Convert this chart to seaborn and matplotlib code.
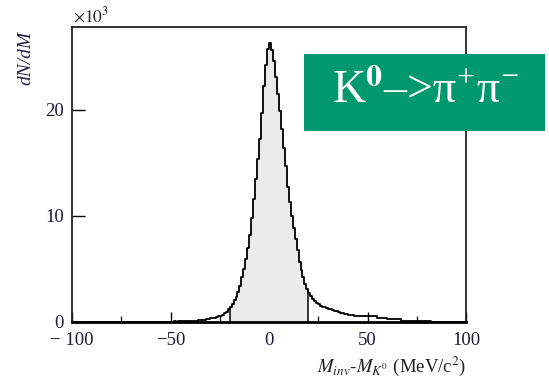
import numpy as np
import matplotlib
matplotlib.use("Agg")
import matplotlib.pyplot as plt
import seaborn as sns
from matplotlib.patches import Rectangle

# ---- data (counts in units of 10^3 per bin) ----
tail_left_edges = [-100, -48, -47, -46, -36]
tail_left_counts = [0.0, 0.08, 0.0, 0.08, 0.22]
core_start, core_stop = -32, 45          # 1 MeV wide bins
core_counts = [
    0.29, 0.31, 0.34, 0.37, 0.41, 0.46, 0.52, 0.60, 0.70, 0.82,   # -32 .. -23
    0.98, 1.18, 1.42, 1.72, 2.05, 2.40, 2.85, 3.40, 4.20, 5.00,   # -22 .. -13
    5.90, 7.00, 8.20, 9.80, 11.6, 13.5, 15.4, 17.2, 19.7, 22.2,   # -12 .. -3
    24.2, 25.7, 26.3, 25.6, 24.6, 23.1, 21.5, 19.9, 18.2, 16.4,   # -2 .. 7
    14.7, 12.7, 11.3, 10.0, 8.90, 7.80, 6.80, 5.70, 4.90, 4.20,   # 8 .. 17
    3.60, 3.10, 2.75, 2.45, 2.20, 2.00, 1.80, 1.66, 1.55, 1.46,   # 18 .. 27
    1.38, 1.31, 1.25, 1.19, 1.12, 1.05, 0.99, 0.93, 0.87, 0.82,   # 28 .. 37
    0.77, 0.72, 0.68, 0.65, 0.62, 0.59, 0.56,                     # 38 .. 44
]
tail_right_edges = [45, 55, 60, 67, 77, 82, 100]
tail_right_counts = [0.52, 0.42, 0.30, 0.14, 0.05, 0.01]
cut_low, cut_high = -20, 20

x_ticks = [-100, -50, 0, 50, 100]
x_ticklabels = ["\u2212 100", "\u221250", "0", "50", "100"]
x_minor = [-75, -25, 25, 75]
y_ticks = [0, 10, 20]
y_ticklabels = ["0", "10", "20"]

edges = np.array(tail_left_edges + list(range(core_start, core_stop)) + tail_right_edges, dtype=float)
counts = np.array(tail_left_counts + core_counts + tail_right_counts)
centers = 0.5 * (edges[:-1] + edges[1:])

# ---- figure ----
sns.set_theme(style="white")
plt.rcParams["font.family"] = ["Liberation Serif", "DejaVu Serif"]
plt.rcParams["mathtext.fontset"] = "stix"

fig = plt.figure(figsize=(5.49, 3.84), dpi=100)
ax = fig.add_axes([72 / 549, 62 / 384, 394 / 549, 295 / 384])

# shaded signal region
sel_bins = (edges[:-1] >= cut_low) & (edges[1:] <= cut_high)
sel_edges = [float(e) for e in edges if cut_low <= e <= cut_high]
sns.histplot(x=centers[sel_bins], weights=counts[sel_bins], bins=sel_edges,
             element="step", fill=True, color="#ebebeb", alpha=1.0,
             linewidth=0, ax=ax)

# full histogram outline
sns.histplot(x=centers, weights=counts, bins=[float(e) for e in edges], element="step",
             fill=False, color="black", linewidth=1.3, ax=ax)

# cut lines
h_low = counts[np.searchsorted(edges, cut_low, side="right") - 1]
h_high = counts[np.searchsorted(edges, cut_high, side="right") - 2]
ax.vlines([cut_low, cut_high], 0, [h_low, h_high], color="black", linewidth=1.1)

ax.set_xlim(-100, 100)
ax.set_ylim(0, 27.8)
ax.set_xticks(x_ticks)
ax.set_xticklabels(x_ticklabels)
ax.set_xticks(x_minor, minor=True)
ax.set_yticks(y_ticks)
ax.set_yticklabels(y_ticklabels)
ax.set_xlabel("")
ax.set_ylabel("")

lab_color = "#1c1c3c"
ax.tick_params(axis="x", which="major", direction="in", length=7.5, width=1.0,
               pad=7, labelsize=13.5, colors="black", labelcolor=lab_color,
               bottom=True, top=False)
ax.tick_params(axis="x", which="minor", direction="in", length=4.5, width=1.0,
               bottom=True, top=False)
ax.tick_params(axis="y", which="major", direction="in", length=9, width=1.0,
               pad=6, labelsize=13.5, colors="black", labelcolor=lab_color,
               left=True, right=False)

for side in ["left", "top", "right"]:
    ax.spines[side].set_linewidth(1.3)
    ax.spines[side].set_color("#222222")
ax.spines["bottom"].set_linewidth(2.0)
ax.spines["bottom"].set_color("black")

# axis texts
fig.text(73 / 549, 1 - 16 / 384, r"$\times10^3$", fontsize=12.5, color="#222222",
         ha="left", va="center")
fig.text(26 / 549, 1 - 58 / 384, "dN/dM", fontsize=14, style="italic",
         rotation=90, ha="center", va="center", color="#222244")
fig.text(466 / 549, 1 - 366 / 384, r"$M_{inv}$-$M_{K^0}$ (MeV/c$^2$)",
         fontsize=13.5, ha="right", va="center", color="#222222")

# green label box
fig.patches.append(Rectangle((304 / 549, 1 - 131 / 384), 241 / 549, 77 / 384,
                             transform=fig.transFigure, facecolor="#00986f",
                             edgecolor="none", zorder=5))
fig.text(426 / 549, 1 - 92 / 384,
         "K$^\\mathbf{0}$\u2013>\u03c0$^\\mathregular{+}$\u03c0$^\\mathregular{\u2212}$",
         fontsize=33, color="white", ha="center", va="center", zorder=6)

fig.savefig("out.png", dpi=100)
